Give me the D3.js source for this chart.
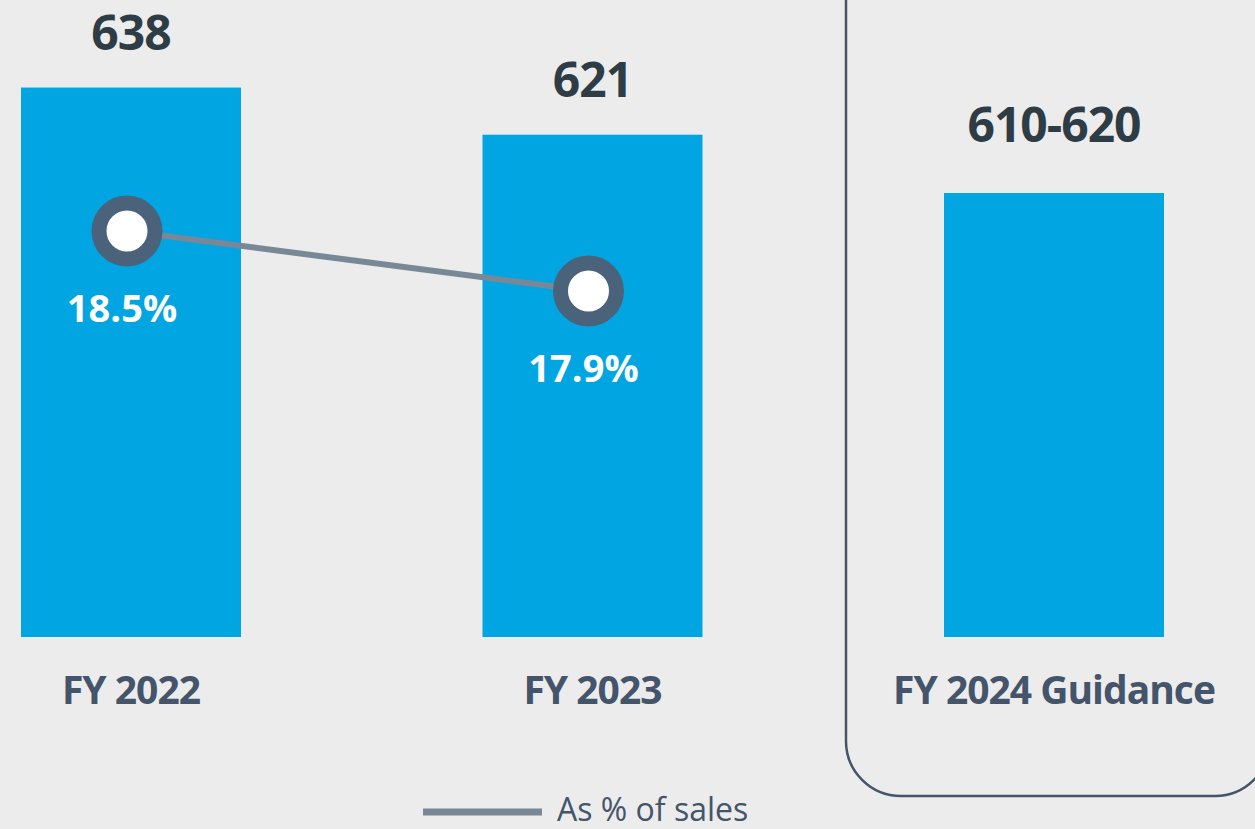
<!DOCTYPE html>
<html>
<head>
<meta charset="utf-8">
<script src="https://cdn.jsdelivr.net/npm/d3@7"></script>
<style>
  html, body { margin: 0; padding: 0; background: #ececec; }
  svg { display: block; }
  text { font-family: "Open Sans", sans-serif; }
</style>
</head>
<body>
<svg id="chart"></svg>
<script>
// Chart data
const categories = ["FY 2022", "FY 2023", "FY 2024 Guidance"];
const values = [638, 621, 600];              // drawn bar heights (EUR m)
const valueLabels = ["638", "621", "610-620"];
const pctCategories = ["FY 2022", "FY 2023"];
const pctValues = [18.5, 17.9];              // as % of sales
const pctLabels = ["18.5%", "17.9%"];
const legendLabel = "As % of sales";

const width = 1255;
const height = 829;
const baseline = 637;

const svg = d3.select("#chart")
  .attr("width", width)
  .attr("height", height);

svg.append("rect")
  .attr("width", width)
  .attr("height", height)
  .attr("fill", "#ececec");

// Scales
const x = d3.scaleBand()
  .domain(categories)
  .range([21, 1164])
  .paddingInner(0.5233)
  .paddingOuter(0);

const y = d3.scaleLinear()
  .domain([440, 640])
  .range([baseline, 82]);

const yPct = d3.scaleLinear()
  .domain([15, 20])
  .range([581, 81]);

// Guidance box
svg.append("rect")
  .attr("x", 846)
  .attr("y", -60)
  .attr("width", 424)
  .attr("height", 856)
  .attr("rx", 55)
  .attr("fill", "none")
  .attr("stroke", "#44546a")
  .attr("stroke-width", 2.5);

// Bars
svg.selectAll(".bar")
  .data(values)
  .join("rect")
  .attr("class", "bar")
  .attr("x", (d, i) => x(categories[i]))
  .attr("y", d => y(d))
  .attr("width", x.bandwidth())
  .attr("height", d => baseline - y(d))
  .attr("fill", "#00a5e2");

// Value labels
svg.selectAll(".val")
  .data(values)
  .join("text")
  .attr("class", "val")
  .attr("x", (d, i) => x(categories[i]) + x.bandwidth() / 2)
  .attr("y", (d, i) => y(d) - (i === 2 ? 51 : 38))
  .attr("text-anchor", "middle")
  .attr("font-size", 48)
  .attr("font-weight", 700)
  .attr("letter-spacing", -1)
  .attr("fill", "#2e3c45")
  .text((d, i) => valueLabels[i]);

// Category labels
svg.selectAll(".cat")
  .data(categories)
  .join("text")
  .attr("class", "cat")
  .attr("x", d => x(d) + x.bandwidth() / 2)
  .attr("y", 704)
  .attr("text-anchor", "middle")
  .attr("font-size", 39)
  .attr("font-weight", 700)
  .attr("letter-spacing", -1)
  .attr("fill", "#44546a")
  .text(d => d);

// Percentage line
const px = (d, i) => x(pctCategories[i]) + x.bandwidth() / 2 - 4;
const line = d3.line()
  .x((d, i) => px(d, i))
  .y(d => yPct(d));

svg.append("path")
  .datum(pctValues)
  .attr("fill", "none")
  .attr("stroke", "#788896")
  .attr("stroke-width", 6)
  .attr("d", line);

svg.selectAll(".dot")
  .data(pctValues)
  .join("circle")
  .attr("class", "dot")
  .attr("cx", px)
  .attr("cy", d => yPct(d))
  .attr("r", 28)
  .attr("fill", "#ffffff")
  .attr("stroke", "#4a637a")
  .attr("stroke-width", 15);

svg.selectAll(".pct")
  .data(pctValues)
  .join("text")
  .attr("class", "pct")
  .attr("x", (d, i) => px(d, i) - 5)
  .attr("y", d => yPct(d) + 91)
  .attr("text-anchor", "middle")
  .attr("font-size", 38)
  .attr("font-weight", 700)
  .attr("fill", "#ffffff")
  .text((d, i) => pctLabels[i]);

// Legend
const legend = svg.append("g").attr("transform", "translate(423, 812)");
legend.append("line")
  .attr("x1", 0)
  .attr("x2", 119)
  .attr("stroke", "#788896")
  .attr("stroke-width", 7);
legend.append("text")
  .attr("x", 134)
  .attr("y", 9)
  .attr("font-size", 32)
  .attr("fill", "#44546a")
  .text(legendLabel);
</script>
</body>
</html>
